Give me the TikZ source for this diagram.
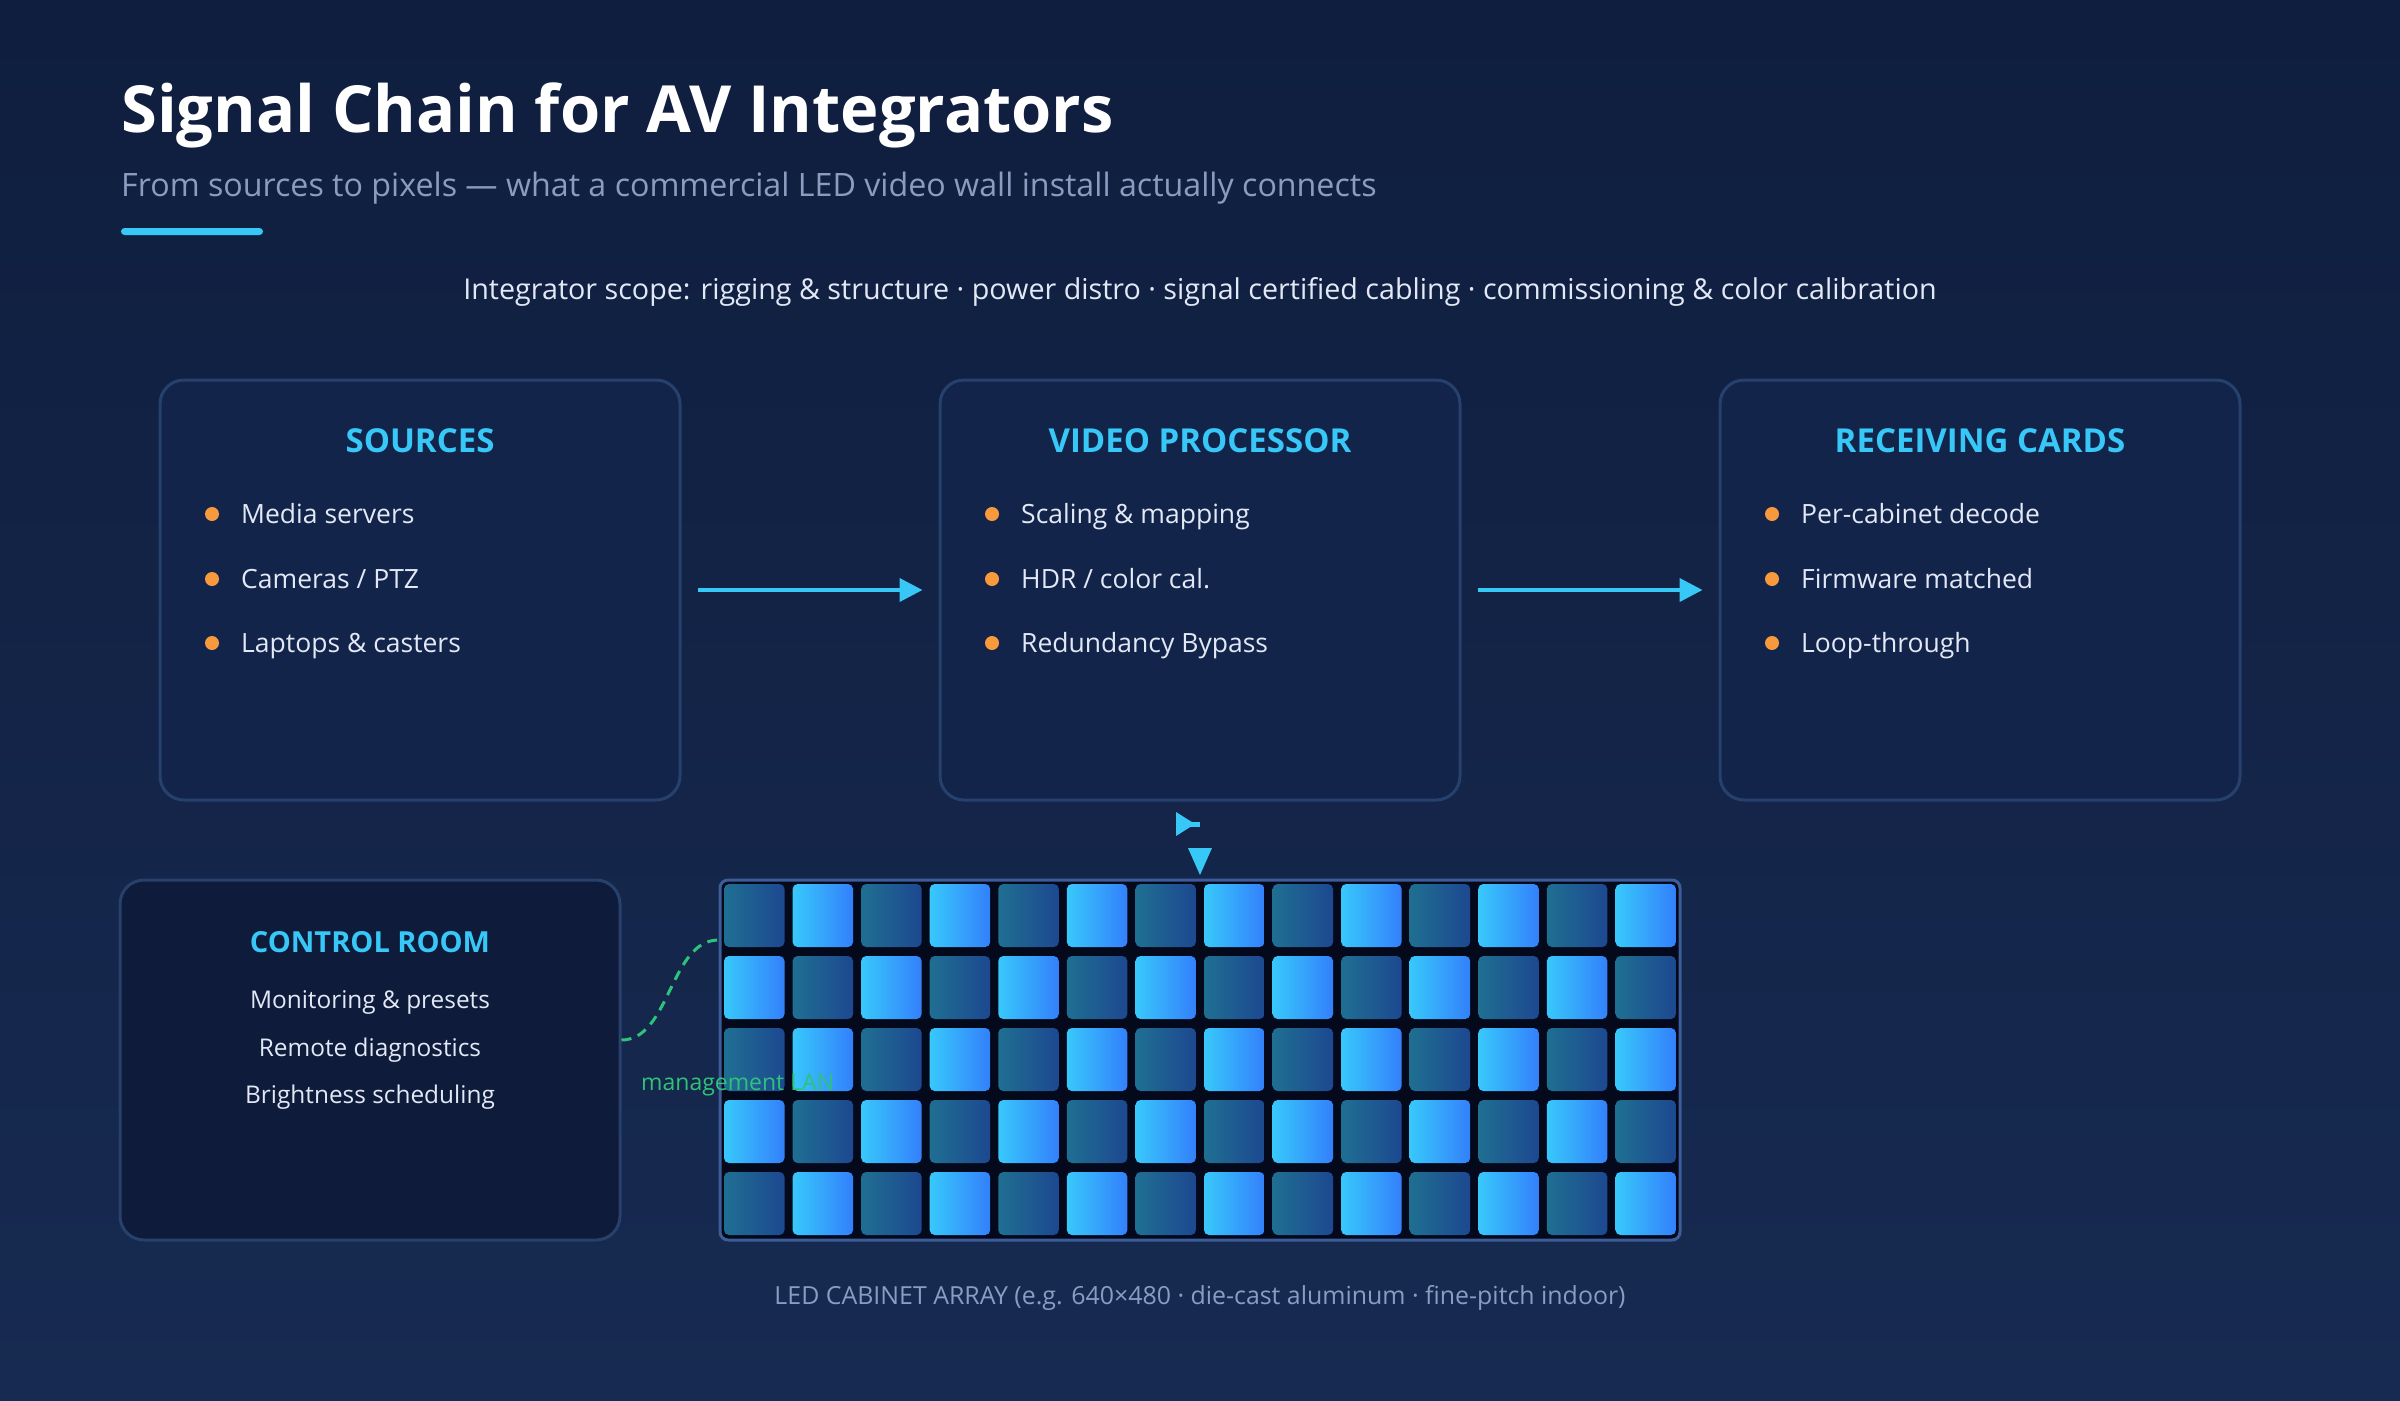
\documentclass[tikz,border=0pt]{standalone}
\usepackage{fontspec}
\setmainfont{Open Sans}
\usetikzlibrary{arrows.meta}
\definecolor{bgtop}{HTML}{0F1E3E}
\definecolor{bgbot}{HTML}{172A51}
\definecolor{boxfill}{HTML}{13244A}
\definecolor{boxline}{HTML}{27416D}
\definecolor{ctrlfill}{HTML}{0E1B3A}
\definecolor{accent}{HTML}{38C8F8}
\definecolor{orangedot}{HTML}{F79A3E}
\definecolor{bodytext}{HTML}{E2E8F5}
\definecolor{subtext}{HTML}{8A9CC0}
\definecolor{gridfill}{HTML}{040A1C}
\definecolor{gridline}{HTML}{3C5C9A}
\definecolor{cellBl}{HTML}{38C8FB}
\definecolor{cellBr}{HTML}{3380FB}
\definecolor{cellDl}{HTML}{1F6F92}
\definecolor{cellDr}{HTML}{1D4890}
\definecolor{lan}{HTML}{2EC27A}
\newcommand\myfs[1]{\fontsize{#1}{#1}\selectfont}
\begin{document}
\begin{tikzpicture}[x=1pt,y=-1pt,
  panel/.style={draw=boxline, line width=3pt, fill=boxfill, rounded corners=24pt,
    minimum width=520pt, minimum height=420pt, inner sep=0pt},
  head/.style={text=accent, font=\myfs{33}\bfseries, inner sep=0pt, anchor=base},
  item/.style={text=bodytext, font=\myfs{26.5}, inner sep=0pt, anchor=base west},
  citem/.style={text=bodytext, font=\myfs{24.4}, inner sep=0pt, anchor=base},
  flow/.style={draw=accent, line width=4pt, -{Triangle[length=23pt,width=23pt]}},
  dot/.style={fill=orangedot}]
\useasboundingbox (0,0) rectangle (2400,1400);
\shade[top color=bgtop, bottom color=bgbot] (0,0) rectangle (2400,1400);

% title block
\node[text=white, font=\myfs{65}\bfseries, inner sep=0pt, anchor=base west] (title) at (121,132) {Signal Chain for AV Integrators};
\node[text=subtext, font=\myfs{32.2}, inner sep=0pt, anchor=base west] (subtitle) at (121,196) {From sources to pixels — what a commercial LED video wall install actually connects};
\fill[accent, rounded corners=3.5pt] (121,228) rectangle (263,235);
\node[text=bodytext, font=\myfs{28.7}, inner sep=0pt, anchor=base] (scope) at (1200,299) {Integrator scope: rigging \& structure · power distro · signal certified cabling · commissioning \& color calibration};

% top panels
\node[panel] (src) at (420,590) {};
\node[panel] (vp) at (1200,590) {};
\node[panel] (rc) at (1980,590) {};

\node[head] (srch) at (420,452) {SOURCES};
\node[head] (vph) at (1200,452) {VIDEO PROCESSOR};
\node[head] (rch) at (1980,452) {RECEIVING CARDS};

\fill[dot] (212,514) circle (7pt);
\fill[dot] (212,579) circle (7pt);
\fill[dot] (212,643) circle (7pt);
\node[item] (s1) at (241,523) {Media servers};
\node[item] (s2) at (241,588) {Cameras / PTZ};
\node[item] (s3) at (241,652) {Laptops \& casters};

\fill[dot] (992,514) circle (7pt);
\fill[dot] (992,579) circle (7pt);
\fill[dot] (992,643) circle (7pt);
\node[item] (v1) at (1021,523) {Scaling \& mapping};
\node[item] (v2) at (1021,588) {HDR / color cal.};
\node[item] (v3) at (1021,652) {Redundancy Bypass};

\fill[dot] (1772,514) circle (7pt);
\fill[dot] (1772,579) circle (7pt);
\fill[dot] (1772,643) circle (7pt);
\node[item] (r1) at (1801,523) {Per-cabinet decode};
\node[item] (r2) at (1801,588) {Firmware matched};
\node[item] (r3) at (1801,652) {Loop-through};

\draw[flow] ([xshift=16pt]src.east) -- ([xshift=-16pt]vp.west);
\draw[flow] ([xshift=16pt]vp.east) -- ([xshift=-16pt]rc.west);

% marker glyphs below the processor
\fill[accent] (1176,812) -- (1195,824) -- (1176,836) -- cycle;
\fill[accent] (1190,821.5) rectangle (1200,826.5);
\fill[accent] (1188,848) -- (1212,848) -- (1200,875) -- cycle;

% control room
\node[panel, fill=ctrlfill, minimum width=500pt, minimum height=360pt] (ctrl) at (370,1060) {};
\node[head, font=\myfs{29}\bfseries] (ctrlh) at (370,952) {CONTROL ROOM};
\node[citem] (c1) at (370,1008) {Monitoring \& presets};
\node[citem] (c2) at (370,1056) {Remote diagnostics};
\node[citem] (c3) at (370,1103) {Brightness scheduling};

% LED wall
\node[draw=gridline, line width=3pt, fill=gridfill, rounded corners=8pt,
  minimum width=960pt, minimum height=360pt, inner sep=0pt] (grid) at (1200,1060) {};
\foreach \i in {0,...,13}{
  \foreach \j in {0,...,4}{
    \pgfmathtruncatemacro{\oddcell}{mod(\i+\j,2)}
    \ifnum\oddcell=1 \def\cellL{cellBl}\def\cellR{cellBr}\else\def\cellL{cellDl}\def\cellR{cellDr}\fi
    \shade[left color=\cellL, right color=\cellR, rounded corners=5pt]
      ({724+68.571*\i},{884+72*\j}) rectangle ++(60.5,63);
  }
}

\draw[lan, line width=3pt, dash pattern=on 10pt off 7pt]
  ([yshift=20pt]ctrl.east) .. controls (670,1040) and (670,940) .. ([yshift=120pt]grid.west);
\node[text=lan, font=\myfs{23}, inner sep=0pt, anchor=base west] (lanlbl) at (641,1090) {management LAN};

\node[text=subtext, font=\myfs{24.9}, inner sep=0pt, anchor=base] (caption) at (1200,1304) {LED CABINET ARRAY (e.g. 640×480 · die-cast aluminum · fine-pitch indoor)};
\end{tikzpicture}
\end{document}
